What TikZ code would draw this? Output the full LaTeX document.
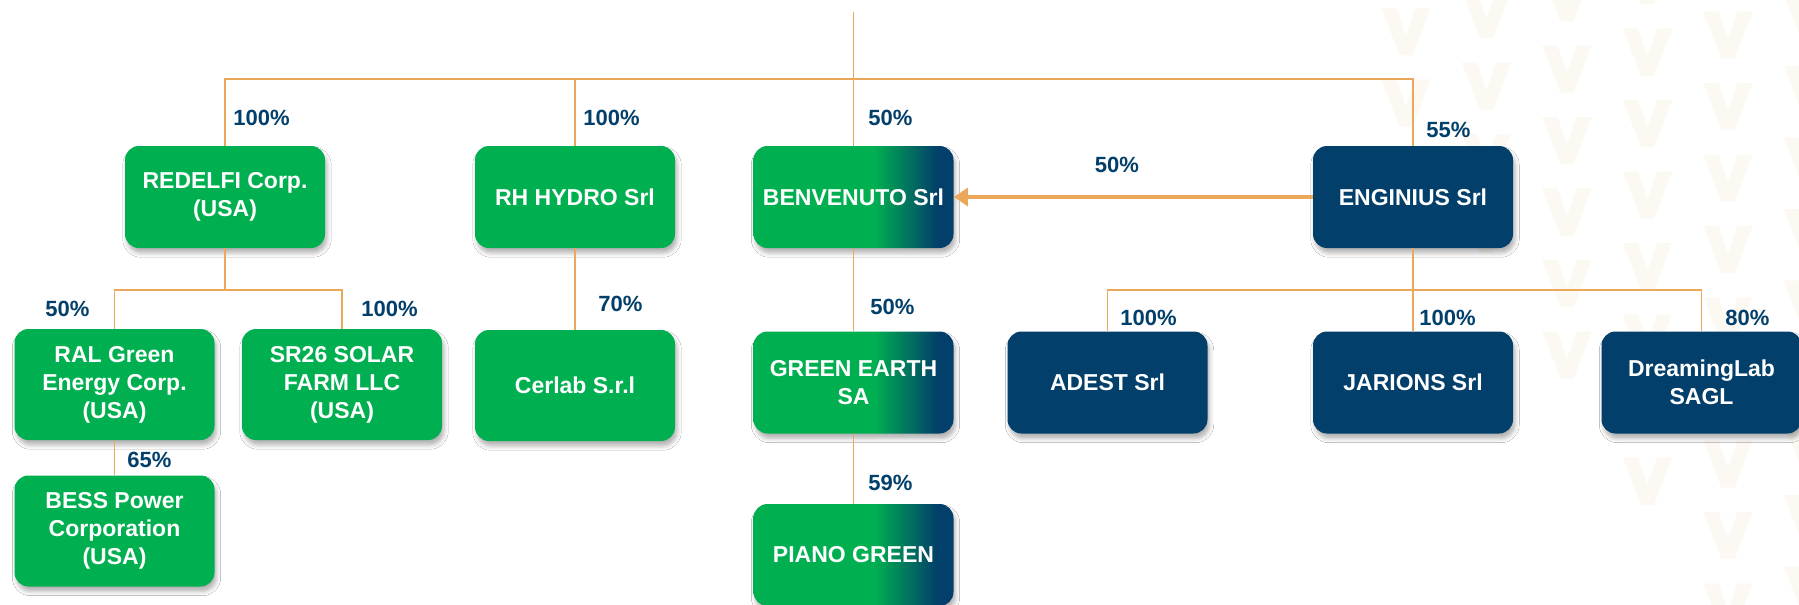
\documentclass[tikz,border=0pt]{standalone}
\usepackage{fontspec}
\setmainfont{Liberation Sans}
\usetikzlibrary{arrows.meta,shadows.blur}

\definecolor{grn}{RGB}{0,176,80}
\definecolor{navy}{RGB}{2,63,106}
\definecolor{lnk}{RGB}{236,168,90}
\definecolor{vbg}{RGB}{252,248,242}
\pgfdeclarehorizontalshading{grnavy}{100bp}{color(0bp)=(grn); color(55bp)=(grn); color(71bp)=(navy); color(100bp)=(navy)}
\def\boxfont{\fontsize{11.5}{14}\selectfont\bfseries}
\def\pctfont{\fontsize{11}{13}\selectfont\bfseries}

\tikzset{
  unit/.style={rounded corners=7pt, minimum width=100pt, minimum height=51pt,
    align=center, text=white, font=\boxfont,
    blur shadow={shadow xshift=1pt, shadow yshift=-2.5pt, shadow opacity=30}},
  grnunit/.style={unit, fill=grn},
  navunit/.style={unit, fill=navy},
  mixunit/.style={unit, shading=grnavy},
  tall/.style={minimum height=55.5pt},
  pct/.style={font=\pctfont, text=navy, inner sep=0pt, anchor=west},
  link/.style={draw=lnk, line width=0.8pt},
  arrowlink/.style={draw=lnk, line width=1.6pt, -{Triangle[length=7pt,width=9pt]}}
}

\begin{document}
\begin{tikzpicture}[x=0.5pt,y=-0.5pt]
		%%%%% START %%%%%
		\fill[white] (0,0) rectangle (1799,605);
		\useasboundingbox (0,0) rectangle (1799,605);
		
		% background pattern
		\foreach \i in {0,...,5}{
			\foreach \j in {-1,...,9}{
				\pgfmathsetmacro\vx{1406+80.5*\i}
				\pgfmathsetmacro\vy{8-17*\i+71.5*\j}
				\pgfmathtruncatemacro\vshow{(\vy>-45)&&(\vy<700-1.4*(1800-\vx))}
				\ifnum\vshow=1
					\fill[vbg] (\vx-24.5,\vy) -- ++(15,0) -- ++(9.5,28) -- ++(9.5,-28) -- ++(15,0) -- ++(-18,47) -- ++(-13,0) -- cycle;
				\fi
			}
		}
		
		% first row
		\node[grnunit] (redelfi) at (225,197) {REDELFI Corp.\\(USA)};
		\node[grnunit] (hydro) at (575,197) {RH HYDRO Srl};
		\node[mixunit] (benv) at (853.5,197) {BENVENUTO Srl};
		\node[navunit] (engin) at (1413,197) {ENGINIUS Srl};
		
		% second row
		\node[grnunit, tall] (ral) at (114.5,384.5) {RAL Green\\Energy Corp.\\(USA)};
		\node[grnunit, tall] (sr26) at (342,384.5) {SR26 SOLAR\\FARM LLC\\(USA)};
		\node[grnunit, tall] (cerlab) at (575,385.5) {Cerlab S.r.l};
		\node[mixunit] (earth) at (853.5,382.5) {GREEN EARTH\\SA};
		\node[navunit] (adest) at (1107.5,382.5) {ADEST Srl};
		\node[navunit] (jarions) at (1413,382.5) {JARIONS Srl};
		\node[navunit] (dream) at (1701.5,382.5) {DreamingLab\\SAGL};
		
		% third row
		\node[grnunit, tall] (bess) at (114.5,531) {BESS Power\\Corporation\\(USA)};
		\node[mixunit] (piano) at (853.5,555) {PIANO GREEN};
		
		% connectors
		\coordinate (top) at (853.5,12);
		\coordinate (bus) at (853.5,79);
		\coordinate (rbus) at (225,290);
		\coordinate (ebus) at (1413,290);
		
		\draw[link] (top) -- (benv.north);
		\draw[link] (redelfi.north) |- (bus) -| (engin.north);
		\draw[link] (hydro.north) -- (hydro.north |- bus);
		\draw[link] (redelfi.south) -- (rbus);
		\draw[link] (ral.north) |- (rbus) -| (sr26.north);
		\draw[link] (ral.south) -- (bess.north);
		\draw[link] (hydro.south) -- (cerlab.north);
		\draw[link] (benv.south) -- (earth.north);
		\draw[link] (earth.south) -- (piano.north);
		\draw[link] (engin.south) -- (ebus);
		\draw[link] (adest.north) |- (ebus) -| (dream.north);
		\draw[link] (ebus) -- (jarions.north);
		\draw[arrowlink] (engin.west) -- (benv.east);
		
		% shares
		\node[pct] (p1) at (233,118) {100\%};
		\node[pct] (p2) at (583,118) {100\%};
		\node[pct] (p3) at (868,118) {50\%};
		\node[pct] (p4) at (1426,130) {55\%};
		\node[pct, anchor=center] (p5) at (1117,165) {50\%};
		\node[pct] (p6) at (45,309) {50\%};
		\node[pct] (p7) at (361,309) {100\%};
		\node[pct] (p8) at (598,304) {70\%};
		\node[pct] (p9) at (870,307) {50\%};
		\node[pct] (p10) at (1120,318) {100\%};
		\node[pct] (p11) at (1419,318) {100\%};
		\node[pct] (p12) at (1725,318) {80\%};
		\node[pct] (p13) at (127,460) {65\%};
		\node[pct] (p14) at (868,483) {59\%};
		
		%%%%% END %%%%%
	\end{tikzpicture}
\end{document}
